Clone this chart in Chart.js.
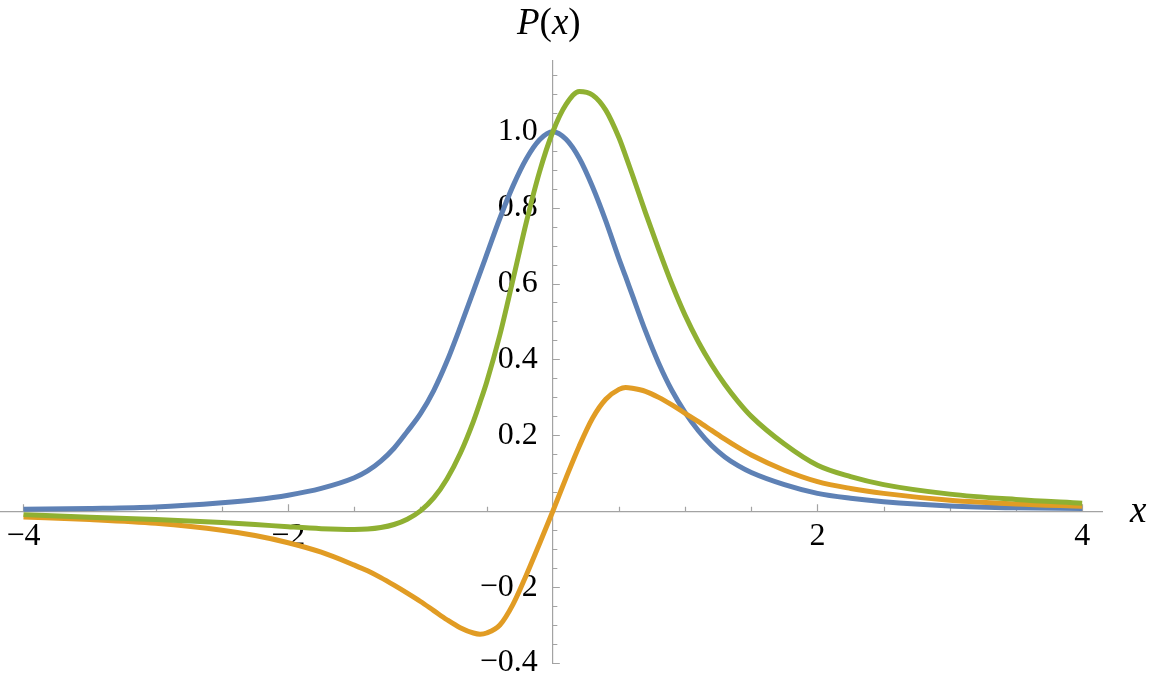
<!DOCTYPE html>
<html>
<head>
<meta charset="utf-8">
<script src="https://cdn.jsdelivr.net/npm/chart.js@4.4.1/dist/chart.umd.min.js"></script>
<style>
  html, body { margin: 0; padding: 0; background: #fff; }
  #wrap { width: 1149px; height: 682px; position: relative; }
</style>
</head>
<body>
<div id="wrap"><canvas id="plot"></canvas></div>
<script>
// sample positions on x, shared by the three curves
const xGrid = [-4, -3.5, -3, -2.5, -2.25, -2, -1.75, -1.5, -1.4, -1.3, -1.2, -1.1, -1, -0.9, -0.8, -0.7, -0.6, -0.55, -0.5, -0.4, -0.3, -0.2, -0.1,
               0, 0.1, 0.2, 0.3, 0.4, 0.5, 0.55, 0.6, 0.7, 0.8, 0.9, 1, 1.1, 1.2, 1.3, 1.4, 1.5, 1.75, 2, 2.25, 2.5, 3, 3.5, 4];

const blueCurve = [0.005, 0.007, 0.011, 0.022, 0.030, 0.042, 0.060, 0.088, 0.106, 0.132, 0.166, 0.210, 0.257, 0.318, 0.395, 0.485, 0.580, 0.628, 0.676, 0.772, 0.858, 0.929, 0.979,
                   1.0, 0.980, 0.930, 0.855, 0.765, 0.665, 0.618, 0.570, 0.475, 0.390, 0.318, 0.260, 0.212, 0.173, 0.143, 0.120, 0.102, 0.070, 0.047, 0.034, 0.025, 0.014, 0.009, 0.007];

const orangeCurve = [-0.015, -0.022, -0.032, -0.050, -0.064, -0.083, -0.108, -0.142, -0.157, -0.175, -0.195, -0.216, -0.238, -0.262, -0.286, -0.307, -0.321, -0.324, -0.321, -0.300, -0.245, -0.168, -0.085,
                     0, 0.088, 0.172, 0.245, 0.295, 0.321, 0.326, 0.324, 0.316, 0.300, 0.280, 0.258, 0.236, 0.213, 0.190, 0.168, 0.148, 0.108, 0.078, 0.060, 0.047, 0.029, 0.019, 0.013];

const greenCurve = [-0.009, -0.016, -0.022, -0.030, -0.035, -0.041, -0.046, -0.048, -0.047, -0.043, -0.035, -0.021, 0.001, 0.035, 0.085, 0.152, 0.237, 0.287, 0.340, 0.465, 0.612, 0.762, 0.895,
                    1.0, 1.072, 1.106, 1.097, 1.057, 0.984, 0.937, 0.888, 0.787, 0.690, 0.598, 0.516, 0.446, 0.386, 0.334, 0.289, 0.250, 0.177, 0.121, 0.091, 0.070, 0.045, 0.031, 0.021];

const xTickValues = [-4, -2, 2, 4];
const yTickValues = [-0.4, -0.2, 0.2, 0.4, 0.6, 0.8, 1.0];

const AXIS_GRAY = '#a3a3a3';
const SERIF = '"Liberation Serif", "Times New Roman", serif';

function toPoints(ys) {
    return xGrid.map((x, i) => ({ x: x, y: ys[i] }));
}

function withMinus(str) {
    return str.replace('-', '\u2212');
}

function curve(label, ys, color, order) {
    return {
        label: label,
        data: toPoints(ys),
        borderColor: color,
        borderWidth: 5,
        pointRadius: 0,
        fill: false,
        cubicInterpolationMode: 'monotone',
        order: order
    };
}

// scales sit inside the plot, so they must not eat any layout space
function noSpace(s) {
    if (s.isHorizontal()) s.height = 0; else s.width = 0;
    s.paddingTop = s.paddingBottom = s.paddingLeft = s.paddingRight = 0;
}

// draw a run of text pieces (some italic) centred on cx
function drawPieces(ctx, pieces, cx, baseline, size) {
    let total = 0;
    pieces.forEach(p => {
        ctx.font = (p.italic ? 'italic ' : '') + size + 'px ' + SERIF;
        p.w = ctx.measureText(p.t).width;
        total += p.w;
    });
    let x = cx - total / 2;
    pieces.forEach(p => {
        ctx.font = (p.italic ? 'italic ' : '') + size + 'px ' + SERIF;
        ctx.fillText(p.t, x, baseline);
        x += p.w;
    });
}

// ===============================
// y axis through x = 0, inward ticks, axis titles
// ===============================
const axisDecor = {
    id: 'axisDecor',
    afterLayout(chart) {
        const { x, y } = chart.scales;
        const px = x.getPixelForValue(0);
        y.left = px - 120;
        y.right = px;
        y.width = 120;
    },
    beforeDatasetsDraw(chart) {
        const { ctx, scales: { x, y } } = chart;
        const x0 = x.getPixelForValue(0);
        const y0 = y.getPixelForValue(0);
        ctx.save();
        ctx.strokeStyle = AXIS_GRAY;
        ctx.lineWidth = 1.2;
        ctx.beginPath();
        for (let k = -8; k <= 8; k++) {
            if (k === 0) continue;
            const px = Math.round(x.getPixelForValue(k * 0.5)) + 0.5;
            const len = (k % 4 === 0) ? 7 : 4.5;
            ctx.moveTo(px, y0);
            ctx.lineTo(px, y0 - len);
        }
        for (let k = -8; k <= 23; k++) {
            if (k === 0) continue;
            const py = Math.round(y.getPixelForValue(k * 0.05)) + 0.5;
            const len = (k % 4 === 0) ? 7 : 4.5;
            ctx.moveTo(x0, py);
            ctx.lineTo(x0 + len, py);
        }
        ctx.stroke();
        ctx.restore();
    },
    afterDraw(chart) {
        const { ctx, chartArea, scales: { x, y } } = chart;
        ctx.save();
        ctx.fillStyle = '#000';
        ctx.textBaseline = 'alphabetic';
        ctx.textAlign = 'left';
        drawPieces(ctx, [
            { t: 'P', italic: true },
            { t: '(', italic: false },
            { t: 'x', italic: true },
            { t: ')', italic: false }
        ], x.getPixelForValue(0) - 4, chartArea.top - 27, 37);
        ctx.font = 'italic 37px ' + SERIF;
        ctx.fillText('x', chartArea.right + 28, y.getPixelForValue(0) + 11);
        ctx.restore();
    }
};

const ctx = document.getElementById('plot').getContext('2d');

const chart = new Chart(ctx, {
    type: 'line',
    data: {
        datasets: [
            curve('P1', blueCurve, '#5e81b5', 2),
            curve('P2', orangeCurve, '#e19c24', 1),
            curve('P3', greenCurve, '#8fb032', 0)
        ]
    },
    options: {
        responsive: true,
        maintainAspectRatio: false,
        animation: false,
        events: [],
        layout: {
            autoPadding: false,
            padding: { left: 1, right: 47, top: 61, bottom: 19 }
        },
        plugins: {
            legend: { display: false },
            tooltip: { enabled: false }
        },
        scales: {
            x: {
                type: 'linear',
                min: -4.17,
                max: 4.15,
                position: { y: 0 },
                afterFit: noSpace,
                afterBuildTicks: s => { s.ticks = xTickValues.map(v => ({ value: v })); },
                grid: { display: true, drawOnChartArea: false, drawTicks: false },
                border: { display: true, color: AXIS_GRAY, width: 1.2 },
                ticks: {
                    autoSkip: false,
                    maxRotation: 0,
                    padding: 6,
                    color: '#000',
                    font: { family: SERIF, size: 32 },
                    callback: v => withMinus(String(v))
                }
            },
            y: {
                type: 'linear',
                min: -0.4,
                max: 1.1864,
                position: 'left',
                afterFit: noSpace,
                afterBuildTicks: s => { s.ticks = yTickValues.map(v => ({ value: v })); },
                grid: { display: true, drawOnChartArea: false, drawTicks: false },
                border: { display: true, color: AXIS_GRAY, width: 1.2 },
                ticks: {
                    autoSkip: false,
                    padding: 15,
                    color: '#000',
                    font: { family: SERIF, size: 32 },
                    callback: v => withMinus(v.toFixed(1))
                }
            }
        }
    },
    plugins: [axisDecor]
});
</script>
</body>
</html>
